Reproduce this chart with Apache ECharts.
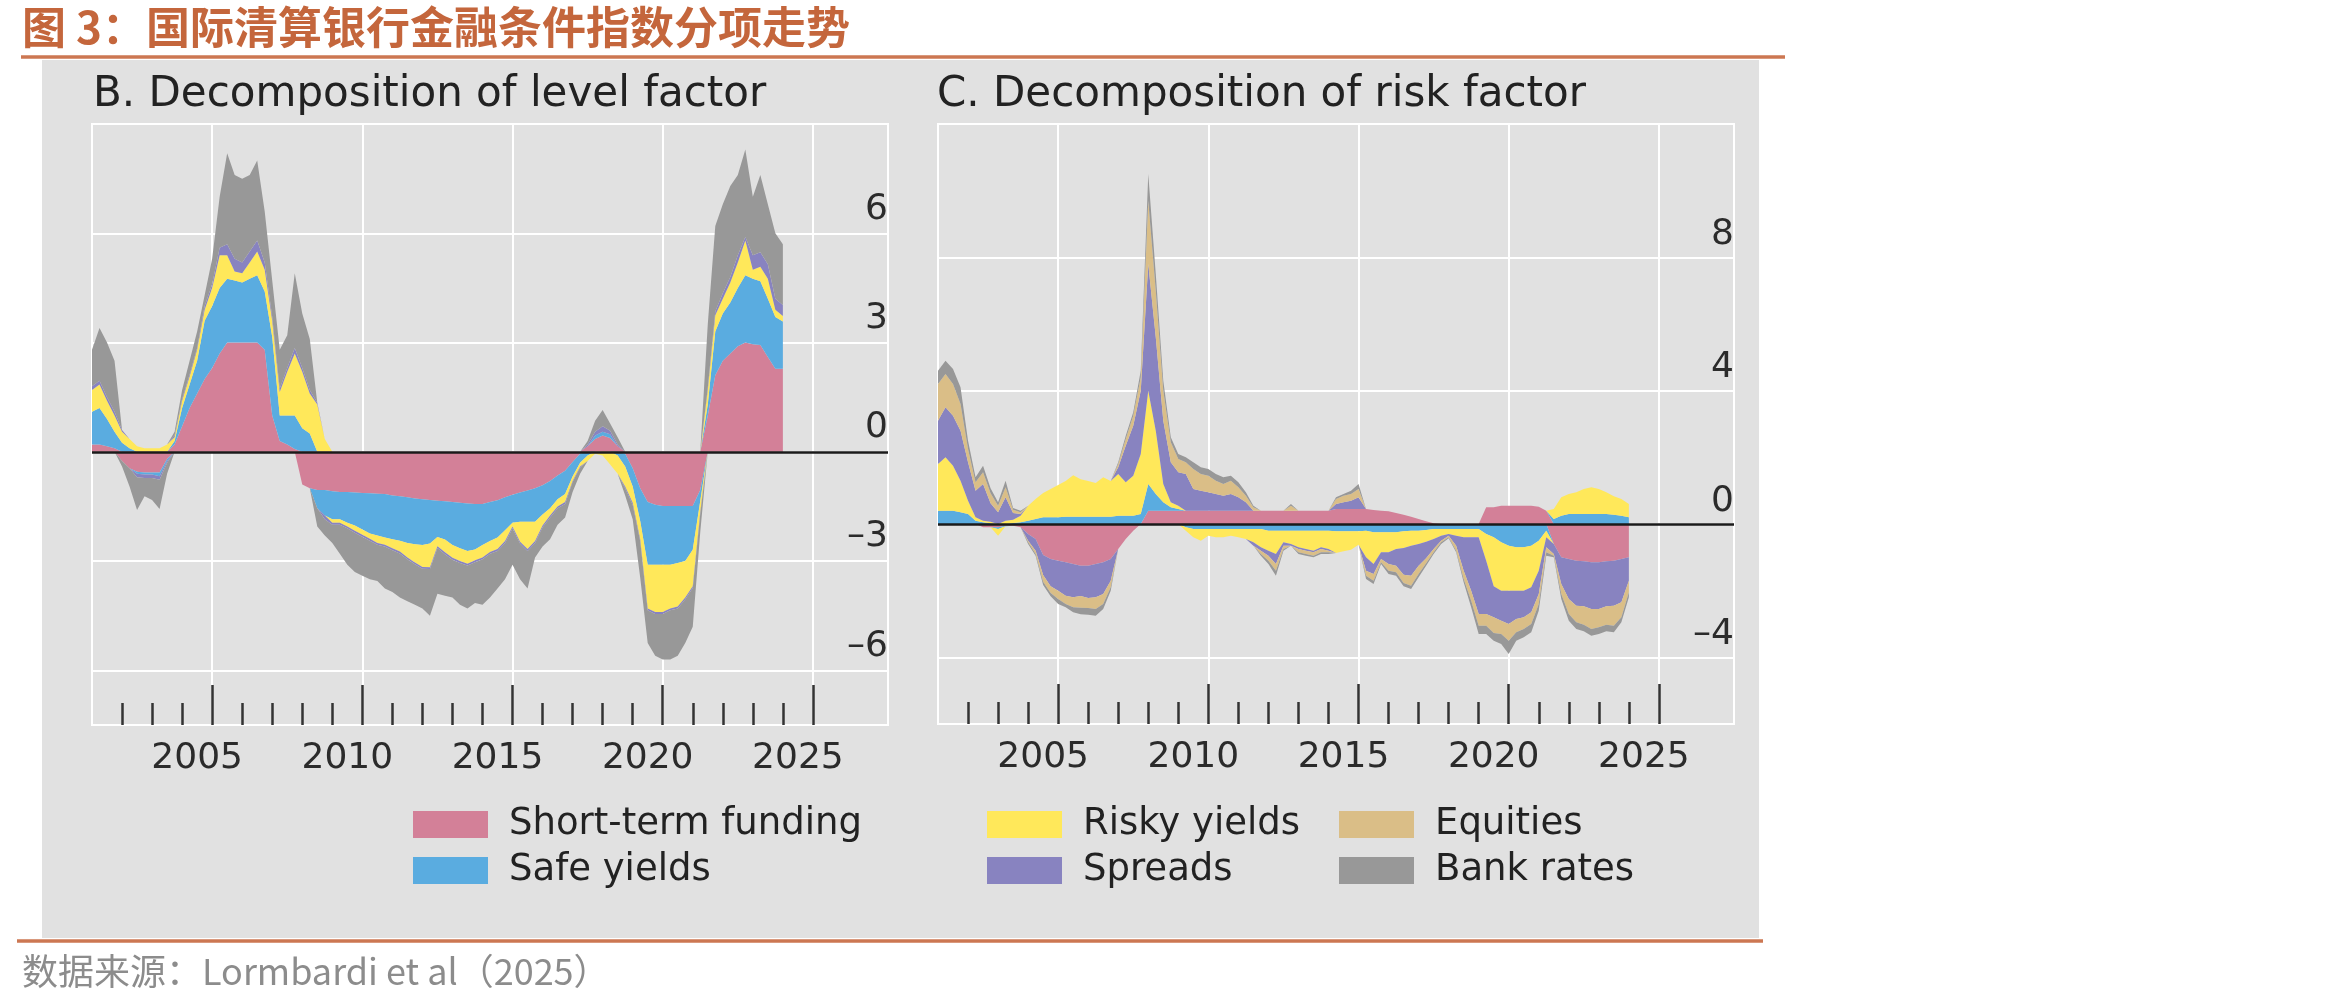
<!DOCTYPE html>
<html>
<head>
<meta charset="utf-8">
<title>国际清算银行金融条件指数分项走势</title>
<script src="https://cdn.jsdelivr.net/npm/echarts@6/dist/echarts.min.js"></script>
<style>
  html, body { margin: 0; padding: 0; background: #fff; }
  #chart { width: 2350px; height: 1003px; }
</style>
</head>
<body>
<div id="chart"></div>
<script>
// quarterly observations (decimal years)
const dates = [
  2001, 2001.25, 2001.5, 2001.75, 2002, 2002.25, 2002.5, 2002.75,
  2003, 2003.25, 2003.5, 2003.75, 2004, 2004.25, 2004.5, 2004.75,
  2005, 2005.25, 2005.5, 2005.75, 2006, 2006.25, 2006.5, 2006.75,
  2007, 2007.25, 2007.5, 2007.75, 2008, 2008.25, 2008.5, 2008.75,
  2009, 2009.25, 2009.5, 2009.75, 2010, 2010.25, 2010.5, 2010.75,
  2011, 2011.25, 2011.5, 2011.75, 2012, 2012.25, 2012.5, 2012.75,
  2013, 2013.25, 2013.5, 2013.75, 2014, 2014.25, 2014.5, 2014.75,
  2015, 2015.25, 2015.5, 2015.75, 2016, 2016.25, 2016.5, 2016.75,
  2017, 2017.25, 2017.5, 2017.75, 2018, 2018.25, 2018.5, 2018.75,
  2019, 2019.25, 2019.5, 2019.75, 2020, 2020.25, 2020.5, 2020.75,
  2021, 2021.25, 2021.5, 2021.75, 2022, 2022.25, 2022.5, 2022.75,
  2023, 2023.25, 2023.5, 2023.75, 2024
];
// empty quarters so the axis runs on to 2027.5
const tailQuarters = [2024.25, 2024.5, 2024.75, 2025, 2025.25, 2025.5, 2025.75,
  2026, 2026.25, 2026.5, 2026.75, 2027, 2027.25, 2027.5];

const factorNames = ['Short-term funding', 'Safe yields', 'Risky yields', 'Spreads', 'Equities', 'Bank rates'];
const factorColors = ['#D38098', '#5AACE0', '#FFE85A', '#8883C0', '#DABE87', '#989898'];

// B. level factor
const levelFunding = [
  0.2, 0.2, 0.15, 0.1, -0.25, -0.45, -0.55, -0.57,
  -0.57, -0.57, -0.2, 0.2, 0.7, 1.2, 1.6, 2.0,
  2.3, 2.7, 3.0, 3.0, 3.0, 3.0, 3.0, 2.8,
  1.0, 0.3, 0.2, 0.08, -0.9, -1.0, -1.05, -1.05,
  -1.08, -1.1, -1.1, -1.12, -1.13, -1.14, -1.15, -1.16,
  -1.2, -1.22, -1.25, -1.28, -1.3, -1.32, -1.34, -1.36,
  -1.38, -1.4, -1.42, -1.43, -1.43, -1.38, -1.33, -1.25,
  -1.18, -1.12, -1.06, -1.0, -0.92, -0.8, -0.65, -0.52,
  -0.28, -0.05, 0.15, 0.35, 0.45, 0.38, 0.15, -0.05,
  -0.45, -1.0, -1.38, -1.45, -1.49, -1.49, -1.49, -1.49,
  -1.49, -1.05, 1.0, 2.1, 2.5, 2.7, 2.9, 3.0,
  2.95, 2.93, 2.6, 2.28, 2.28
];
const levelSafe = [
  0.9, 1.0, 0.75, 0.45, 0.25, 0.1, -0.05, -0.05,
  -0.05, -0.1, -0.05, 0.1, 0.5, 0.65, 0.9, 1.6,
  1.7, 1.8, 1.75, 1.7, 1.65, 1.75, 1.85, 1.6,
  2.15, 0.7, 0.8, 0.92, 0.65, 0.5, -0.5, -0.7,
  -0.77, -0.75, -0.85, -0.9, -1.0, -1.1, -1.15, -1.19,
  -1.2, -1.22, -1.25, -1.26, -1.26, -1.2, -1.0, -1.05,
  -1.18, -1.25, -1.3, -1.25, -1.13, -1.07, -1.02, -0.9,
  -0.77, -0.8, -0.86, -0.92, -0.8, -0.75, -0.65, -0.64,
  -0.4, -0.25, -0.1, 0.1, 0.1, 0.1, -0.1, -0.35,
  -0.5, -0.9, -1.72, -1.65, -1.61, -1.61, -1.56, -1.51,
  -1.2, -0.3, 0.3, 1.2, 1.3, 1.4, 1.6, 1.85,
  1.8, 1.75, 1.6, 1.42, 1.3
];
const levelRisky = [
  0.6, 0.65, 0.5, 0.45, 0.3, 0.25, 0.15, 0.1,
  0.1, 0.1, 0.2, 0.1, 0.2, 0.22, 0.3, 0.3,
  0.5, 0.9, 0.65, 0.25, 0.25, 0.45, 0.65, 0.6,
  0.45, 0.64, 1.2, 1.7, 1.55, 1.1, 1.3, 0.35,
  -0.1, -0.1, -0.1, -0.15, -0.15, -0.15, -0.2, -0.2,
  -0.25, -0.3, -0.4, -0.5, -0.6, -0.65, -0.25, -0.35,
  -0.35, -0.35, -0.35, -0.3, -0.34, -0.3, -0.32, -0.3,
  -0.1, -0.55, -0.75, -0.53, -0.3, -0.2, -0.2, -0.22,
  -0.12, -0.1, -0.15, -0.05, -0.1, -0.35, -0.5, -0.55,
  -0.45, -0.5, -1.2, -1.3, -1.3, -1.2, -1.2, -1.0,
  -1.0, -0.3, 0.4, 0.45, 0.4, 0.55, 0.7, 0.95,
  0.25, 0.4, 0.55, 0.2, 0.15
];
const levelSpreads = [
  0.1, 0.1, 0.1, 0.1, 0.05, 0, -0.1, -0.1,
  -0.1, -0.1, -0.05, 0.05, 0.05, 0.05, 0.05, 0.1,
  0.1, 0.2, 0.3, 0.35, 0.3, 0.3, 0.3, 0.2,
  0.1, 0.1, 0.1, 0.15, 0.1, 0.1, 0.05, -0.1,
  -0.05, -0.05, -0.05, -0.05, -0.05, -0.05, -0.05, -0.05,
  -0.05, -0.05, -0.05, -0.05, -0.05, -0.05, -0.05, -0.05,
  -0.05, -0.05, -0.05, -0.05, -0.05, -0.05, -0.05, -0.05,
  -0.05, -0.05, -0.05, -0.05, -0.05, -0.05, -0.05, -0.05,
  -0.03, -0.03, 0.05, 0.1, 0.15, 0.1, 0.05, -0.05,
  -0.05, -0.05, -0.05, -0.05, -0.05, -0.05, -0.05, -0.05,
  -0.05, -0.05, 0.05, 0.1, 0.15, 0.15, 0.2, 0.1,
  0.4, 0.4, 0.4, 0.3, 0.3
];
const levelEquities = [
  0, 0, 0, 0, 0, 0, 0, 0, 0, 0, 0, 0, 0, 0, 0, 0,
  0, 0, 0, 0, 0, 0, 0, 0, 0, 0, 0, 0, 0, 0, 0, 0,
  0, 0, 0, 0, 0, 0, 0, 0, 0, 0, 0, 0, 0, 0, 0, 0,
  0, 0, 0, 0, 0, 0, 0, 0, 0, 0, 0, 0, 0, 0, 0, 0,
  0, 0, 0, 0, 0, 0, 0, 0, 0, 0, 0, 0, 0, 0, 0, 0,
  0, 0, 0, 0, 0, 0, 0, 0, 0, 0, 0, 0, 0
];
const levelBank = [
  1.0, 1.45, 1.5, 1.4, -0.15, -0.5, -0.9, -0.5,
  -0.6, -0.8, -0.3, 0.1, 0.25, 0.38, 0.45, 0.3,
  0.7, 1.4, 2.5, 2.3, 2.3, 2.1, 2.2, 1.4,
  1.0, 1.06, 0.9, 2.05, 1.5, 1.4, -0.5, -0.45,
  -0.5, -0.8, -1.0, -1.08, -1.07, -1.06, -1.0, -1.15,
  -1.15, -1.21, -1.15, -1.11, -1.09, -1.28, -1.26, -1.14,
  -1.04, -1.15, -1.18, -1.12, -1.25, -1.2, -1.03, -1.0,
  -1.0, -0.98, -1.03, -0.4, -0.53, -0.6, -0.45, -0.37,
  -0.27, -0.17, 0.1, 0.3, 0.45, 0.2, 0.2, -0.2,
  -0.4, -1.0, -0.9, -1.15, -1.25, -1.35, -1.3, -1.2,
  -1.06, -0.5, 1.75, 2.35, 2.45, 2.5, 2.2, 2.4,
  1.6, 2.12, 1.65, 1.8, 1.67
];

// C. risk factor
const riskFunding = [
  0, 0, 0, 0, 0, 0, -0.1, -0.1,
  -0.1, -0.05, -0.05, -0.1, -0.3, -0.45, -0.93, -1.05,
  -1.1, -1.15, -1.2, -1.25, -1.25, -1.2, -1.15, -1.05,
  -0.75, -0.45, -0.2, 0, 0.4, 0.4, 0.4, 0.4,
  0.4, 0.4, 0.4, 0.4, 0.4, 0.4, 0.4, 0.4,
  0.4, 0.4, 0.4, 0.4, 0.4, 0.4, 0.4, 0.4,
  0.4, 0.4, 0.4, 0.4, 0.4, 0.45, 0.45, 0.45,
  0.45, 0.45, 0.42, 0.4, 0.38, 0.33, 0.28, 0.22,
  0.15, 0.08, 0.02, 0, 0, 0, 0, 0,
  0, 0.5, 0.5, 0.55, 0.55, 0.55, 0.55, 0.55,
  0.52, 0.4, -0.6, -1.0, -1.05, -1.1, -1.12, -1.15,
  -1.15, -1.12, -1.1, -1.05, -1.0
];
const riskSafe = [
  0.4, 0.4, 0.4, 0.35, 0.3, 0.1, 0.05, 0.02,
  -0.05, -0.02, 0.03, 0.05, 0.1, 0.15, 0.2, 0.2,
  0.2, 0.22, 0.22, 0.22, 0.22, 0.22, 0.22, 0.22,
  0.25, 0.25, 0.25, 0.3, 0.8, 0.5, 0.25, 0.1,
  0.05, -0.1, -0.15, -0.15, -0.15, -0.15, -0.15, -0.15,
  -0.15, -0.15, -0.15, -0.15, -0.2, -0.2, -0.2, -0.2,
  -0.2, -0.2, -0.2, -0.2, -0.2, -0.22, -0.22, -0.22,
  -0.22, -0.2, -0.25, -0.25, -0.25, -0.25, -0.22, -0.2,
  -0.2, -0.18, -0.15, -0.15, -0.15, -0.15, -0.15, -0.15,
  -0.15, -0.3, -0.4, -0.55, -0.65, -0.7, -0.7, -0.65,
  -0.5, -0.2, 0.15, 0.25, 0.3, 0.3, 0.3, 0.3,
  0.3, 0.3, 0.28, 0.25, 0.2
];
const riskRisky = [
  1.4, 1.6, 1.35, 0.95, 0.4, 0.1, 0.05, 0.05,
  -0.2, 0.1, 0.1, 0.2, 0.45, 0.6, 0.73, 0.85,
  0.97, 1.07, 1.24, 1.12, 1.07, 1.01, 1.18, 1.07,
  1.25, 1.0, 1.2, 1.8, 2.8, 1.9, 0.55, 0.15,
  0.1, -0.1, -0.25, -0.35, -0.2, -0.25, -0.25, -0.2,
  -0.25, -0.3, -0.4, -0.55, -0.6, -0.7, -0.35, -0.4,
  -0.5, -0.55, -0.6, -0.5, -0.55, -0.65, -0.6, -0.55,
  -0.4, -0.8, -0.95, -0.6, -0.6, -0.5, -0.5, -0.45,
  -0.4, -0.35, -0.3, -0.2, -0.15, -0.2, -0.25, -0.25,
  -0.25, -0.8, -1.47, -1.45, -1.35, -1.3, -1.3, -1.25,
  -0.9, -0.2, 0.3, 0.55, 0.6, 0.65, 0.75, 0.8,
  0.75, 0.65, 0.55, 0.5, 0.4
];
const riskSpreads = [
  1.3, 1.5, 1.5, 1.5, 1.15, 0.8, 1.1, 0.55,
  0.35, 0.7, 0.2, 0.05, -0.2, -0.35, -0.6, -0.82,
  -0.9, -1.0, -1.0, -0.91, -0.97, -1.0, -0.95, -0.65,
  0.2, 1.1, 1.5, 1.9, 3.8, 2.8, 1.9, 1.2,
  1.0, 1.1, 0.65, 0.6, 0.55, 0.5, 0.45, 0.5,
  0.4, 0.25, -0.1, -0.1, -0.15, -0.3, -0.1, -0.05,
  -0.05, -0.05, -0.05, -0.05, -0.05, 0.15, 0.2, 0.25,
  0.35, -0.4, -0.3, -0.2, -0.35, -0.5, -0.8, -0.9,
  -0.65, -0.5, -0.3, -0.15, -0.05, -0.3, -1.0, -1.6,
  -2.3, -1.6, -0.93, -0.9, -1.0, -0.85, -0.8, -0.75,
  -0.7, -0.3, -0.3, -0.8, -1.2, -1.35, -1.35, -1.4,
  -1.4, -1.35, -1.35, -1.3, -0.7
];
const riskEquities = [
  1.1, 1.0, 0.95, 0.8, 0.4, 0.25, 0.35, 0.3,
  0.2, 0.3, 0.1, 0.05, -0.05, -0.1, -0.2, -0.2,
  -0.25, -0.25, -0.3, -0.35, -0.3, -0.35, -0.3, -0.2,
  0.1, 0.2, 0.3, 0.4, 1.9, 1.4, 0.9, 0.6,
  0.4, 0.35, 0.6, 0.5, 0.5, 0.4, 0.35, 0.4,
  0.3, 0.2, 0.1, -0.1, -0.15, -0.2, -0.1, 0.15,
  -0.1, -0.1, -0.1, -0.1, -0.05, 0.15, 0.2, 0.2,
  0.25, -0.15, -0.2, -0.1, -0.2, -0.2, -0.25, -0.3,
  -0.25, -0.15, -0.1, -0.05, -0.05, -0.15, -0.25, -0.3,
  -0.35, -0.35, -0.47, -0.4, -0.5, -0.4, -0.35, -0.35,
  -0.3, -0.15, -0.05, -0.3, -0.45, -0.5, -0.55, -0.6,
  -0.55, -0.55, -0.6, -0.45, -0.35
];
const riskBank = [
  0.4, 0.4, 0.45, 0.5, 0.25, 0.15, 0.2, 0.15,
  0.1, 0.2, 0.05, 0.05, -0.05, -0.05, -0.1, -0.1,
  -0.15, -0.1, -0.15, -0.2, -0.2, -0.2, -0.15, -0.1,
  0.05, 0.1, 0.1, 0.2, 0.8, 0.5, 0.3, 0.15,
  0.15, 0.15, 0.2, 0.2, 0.2, 0.2, 0.2, 0.15,
  0.15, 0.1, 0.05, -0.05, -0.1, -0.15, -0.05, 0.05,
  -0.05, -0.05, -0.05, -0.05, -0.05, 0.05, 0.05, 0.1,
  0.15, -0.1, -0.1, -0.05, -0.1, -0.1, -0.1, -0.1,
  -0.1, -0.07, -0.05, -0.05, -0.03, -0.05, -0.1, -0.2,
  -0.25, -0.25, -0.23, -0.3, -0.4, -0.25, -0.25, -0.25,
  -0.2, -0.1, -0.05, -0.15, -0.2, -0.2, -0.2, -0.2,
  -0.2, -0.2, -0.2, -0.15, -0.15
];

const levelTicks = [-6, -3, 0, 3, 6];
const riskTicks = [-4, 0, 4, 8];
const yearLabels = [2005, 2010, 2015, 2020, 2025];
const yearTicks = [2002, 2003, 2004, 2005, 2006, 2007, 2008, 2009, 2010, 2011, 2012, 2013,
  2014, 2015, 2016, 2017, 2018, 2019, 2020, 2021, 2022, 2023, 2024, 2025];

const panels = [
  { values: [levelFunding, levelSafe, levelRisky, levelSpreads, levelEquities, levelBank],
    ticks: levelTicks, min: -7.5, max: 9,
    grid: { left: 92, top: 124, width: 796, height: 601 } },
  { values: [riskFunding, riskSafe, riskRisky, riskSpreads, riskEquities, riskBank],
    ticks: riskTicks, min: -6, max: 12,
    grid: { left: 938, top: 124, width: 796, height: 600 } }
];

const FONT = 'DejaVu Sans';
const axisCategories = dates.concat(tailQuarters);
const labelLift = [0.66, 0.68];   // y labels sit just above their grid line (in axis units)

const grids = [], xAxes = [], yAxes = [], series = [];
panels.forEach(function (p, pi) {
  grids.push(Object.assign({ show: true, borderColor: '#fff', borderWidth: 2, backgroundColor: 'transparent' }, p.grid));
  const hiddenLine = { show: false, onZero: false };
  // data axis (quarters)
  xAxes.push({ type: 'category', gridIndex: pi, data: axisCategories, boundaryGap: false, position: 'bottom',
    axisLine: hiddenLine, axisTick: { show: false }, axisLabel: { show: false }, splitLine: { show: false } });
  // vertical grid lines every 5 years
  xAxes.push({ type: 'value', gridIndex: pi, min: 2001, max: 2027.5, position: 'bottom',
    axisLine: hiddenLine, axisTick: { show: false, customValues: yearLabels }, axisLabel: { show: false },
    splitLine: { show: true, lineStyle: { color: '#fff', width: 2 } } });
  // long ticks
  xAxes.push({ type: 'value', gridIndex: pi, min: 2001, max: 2027.5, position: 'bottom',
    axisLine: hiddenLine,
    axisTick: { show: true, inside: true, length: 40, customValues: yearLabels, lineStyle: { color: '#333', width: 2.5 } },
    axisLabel: { show: false }, splitLine: { show: false } });
  // short yearly ticks and year labels
  xAxes.push({ type: 'value', gridIndex: pi, min: 2001, max: 2027.5, position: 'bottom',
    axisLine: hiddenLine,
    axisTick: { show: true, inside: true, length: 22, customValues: yearTicks, lineStyle: { color: '#333', width: 2.5 } },
    axisLabel: { show: true, customValues: yearLabels, fontFamily: FONT, fontSize: 36, color: '#2b2b2b',
      margin: 16, padding: [0, 30, 0, 0], formatter: function (v) { return String(v); } },
    splitLine: { show: false } });

  // value axis with the grid lines
  yAxes.push({ type: 'value', gridIndex: pi, min: p.min, max: p.max, position: 'right',
    axisLine: hiddenLine, axisTick: { show: false, customValues: p.ticks }, axisLabel: { show: false },
    splitLine: { show: true, lineStyle: { color: '#fff', width: 2 } } });
  // same scale, carrying the tick labels just above each grid line
  const lift = labelLift[pi];
  yAxes.push({ type: 'value', gridIndex: pi, min: p.min, max: p.max, position: 'right',
    axisLine: hiddenLine, axisTick: { show: false },
    axisLabel: { show: true, inside: true, margin: 0,
      customValues: p.ticks.map(function (t) { return t + lift; }),
      fontFamily: FONT, fontSize: 36, color: '#2b2b2b',
      formatter: function (v) { const t = Math.round(v - lift); return t < 0 ? '\u2013' + Math.abs(t) : String(t); } },
    splitLine: { show: false } });

  ['pos', 'neg'].forEach(function (side) {
    p.values.forEach(function (vals, k) {
      series.push({
        type: 'line', name: factorNames[k], xAxisIndex: pi * 4, yAxisIndex: pi * 2,
        stack: 'panel' + pi + side,
        data: vals.map(function (v) { return side === 'pos' ? Math.max(v, 0) : Math.min(v, 0); }),
        symbol: 'none', showSymbol: false, silent: true,
        lineStyle: { width: 0 }, itemStyle: { color: factorColors[k] },
        areaStyle: { color: factorColors[k], opacity: 1 }
      });
    });
  });
  // zero line
  series[series.length - 1].markLine = {
    silent: true, symbol: ['none', 'none'], label: { show: false },
    lineStyle: { color: '#1a1a1a', width: 2.5, type: 'solid' },
    emphasis: { disabled: true },
    data: [{ yAxis: 0 }]
  };
});

function legendGroup(names, left) {
  return {
    data: names, left: left, top: 801, orient: 'vertical', icon: 'rect',
    itemWidth: 75, itemHeight: 27, itemGap: 9, selectedMode: false,
    textStyle: { fontFamily: FONT, fontSize: 37, color: '#222', lineHeight: 30, padding: [0, 0, 0, 16] }
  };
}

const chart = echarts.init(document.getElementById('chart'));
chart.setOption({
  animation: false,
  backgroundColor: '#fff',
  grid: grids,
  xAxis: xAxes,
  yAxis: yAxes,
  legend: [
    legendGroup(['Short-term funding', 'Safe yields'], 408),
    legendGroup(['Risky yields', 'Spreads'], 982),
    legendGroup(['Equities', 'Bank rates'], 1334)
  ],
  graphic: [
    { type: 'rect', z: -10, shape: { x: 42, y: 60, width: 1717, height: 878 }, style: { fill: '#E1E1E1' } },
    { type: 'text', x: 22, y: 27, style: { text: '图 3：国际清算银行金融条件指数分项走势', fill: '#C4663C',
      font: 'bold 44px "Noto Sans CJK SC"', textVerticalAlign: 'middle' } },
    { type: 'line', shape: { x1: 21, y1: 57, x2: 1785, y2: 57 }, style: { stroke: '#CC7752', lineWidth: 3.5 } },
    { type: 'text', x: 93, y: 95, style: { text: 'B. Decomposition of level factor', fill: '#222',
      font: '42px "DejaVu Sans"', textVerticalAlign: 'middle' } },
    { type: 'text', x: 937, y: 95, style: { text: 'C. Decomposition of risk factor', fill: '#222',
      font: '42px "DejaVu Sans"', textVerticalAlign: 'middle' } },
    { type: 'line', shape: { x1: 17, y1: 941, x2: 1763, y2: 941 }, style: { stroke: '#CC7752', lineWidth: 3.5 } },
    { type: 'text', x: 22, y: 971, style: { text: '数据来源：Lormbardi et al（2025）', fill: '#8c8c8c',
      font: '36px "Noto Sans CJK SC"', textVerticalAlign: 'middle' } }
  ],
  series: series
});
</script>
</body>
</html>
